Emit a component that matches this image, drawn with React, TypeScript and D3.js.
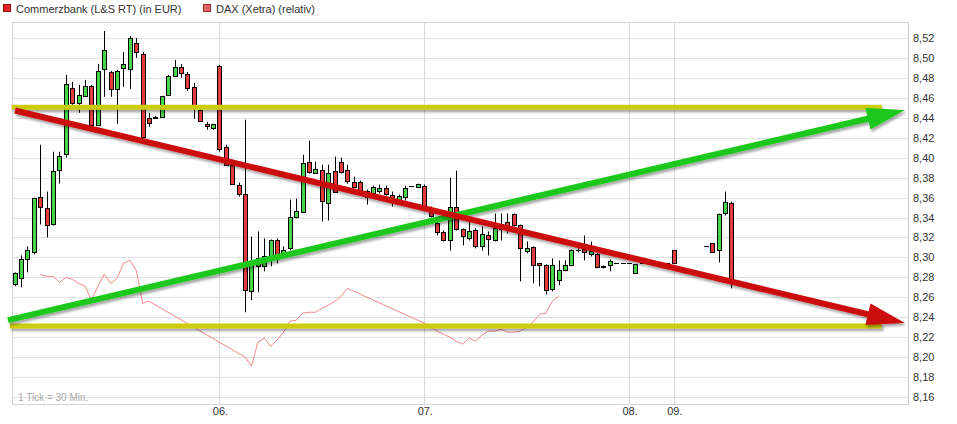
import React from "react";
import * as d3 from "d3";

const W = 957;
const H = 424;

// Commerzbank (L&S RT) 30-min candles, index 0 .. 112
const opens = [
  8.273, 8.279, 8.298, 8.305, 8.361, 8.350, 8.333, 8.388, 8.404, 8.470,
  8.455, 8.462, 8.472, 8.433, 8.489, 8.486, 8.469, 8.490, 8.489, 8.515,
  8.504, 8.440, 8.440, 8.441, 8.463, 8.482, 8.491, 8.484, 8.471, 8.448,
  8.434, 8.430, 8.492, 8.411, 8.393, 8.373, 8.364, 8.266, 8.291, 8.291,
  8.299, 8.317, 8.302, 8.309, 8.341, 8.346, 8.396, 8.385, 8.388, 8.355,
  8.387, 8.396, 8.388, 8.376, 8.376, 8.367, 8.365, 8.367, 8.370, 8.363,
  8.358, 8.361, 8.372, 8.371, 8.372, 8.349, 8.334, 8.325, 8.317, 8.351,
  8.328, 8.319, 8.327, 8.311, 8.322, 8.317, 8.328, 8.335, 8.344, 8.332,
  8.306, 8.310, 8.294, 8.292, 8.268, 8.277, 8.287, 8.292, 8.307, 8.308,
  8.303, 8.303, 8.291, 8.292, 8.294, 8.294, 8.294, 8.284, 8.294, 8.294,
  8.294, 8.294, 8.294, 8.307, 8.290, 8.287, 8.287, 8.285, 8.311, 8.314,
  8.307, 8.345, 8.355,
];
const highs = [
  8.285, 8.302, 8.311, 8.360, 8.413, 8.366, 8.406, 8.406, 8.483, 8.476,
  8.473, 8.478, 8.473, 8.494, 8.527, 8.487, 8.488, 8.506, 8.522, 8.520,
  8.506, 8.445, 8.442, 8.462, 8.483, 8.498, 8.494, 8.486, 8.475, 8.452,
  8.436, 8.434, 8.493, 8.413, 8.398, 8.375, 8.438, 8.321, 8.326, 8.319,
  8.318, 8.319, 8.311, 8.358, 8.359, 8.403, 8.417, 8.396, 8.393, 8.393,
  8.401, 8.400, 8.393, 8.381, 8.377, 8.368, 8.372, 8.373, 8.372, 8.366,
  8.363, 8.372, 8.372, 8.374, 8.373, 8.351, 8.337, 8.327, 8.380, 8.387,
  8.329, 8.341, 8.329, 8.331, 8.326, 8.344, 8.344, 8.344, 8.344, 8.333,
  8.316, 8.311, 8.294, 8.293, 8.299, 8.297, 8.297, 8.308, 8.309, 8.322,
  8.316, 8.304, 8.292, 8.298, 8.294, 8.294, 8.294, 8.293, 8.294, 8.294,
  8.294, 8.294, 8.294, 8.307, 8.290, 8.287, 8.287, 8.285, 8.311, 8.314,
  8.344, 8.366, 8.356,
];
const lows = [
  8.271, 8.270, 8.285, 8.303, 8.333, 8.320, 8.332, 8.374, 8.400, 8.453,
  8.445, 8.461, 8.432, 8.432, 8.461, 8.461, 8.434, 8.471, 8.469, 8.500,
  8.420, 8.431, 8.439, 8.440, 8.462, 8.482, 8.480, 8.467, 8.439, 8.436,
  8.428, 8.428, 8.406, 8.392, 8.373, 8.361, 8.245, 8.257, 8.265, 8.286,
  8.291, 8.294, 8.301, 8.307, 8.339, 8.345, 8.384, 8.384, 8.336, 8.337,
  8.365, 8.384, 8.374, 8.370, 8.367, 8.353, 8.364, 8.364, 8.362, 8.351,
  8.357, 8.357, 8.372, 8.371, 8.347, 8.340, 8.322, 8.316, 8.307, 8.327,
  8.312, 8.317, 8.309, 8.307, 8.302, 8.316, 8.317, 8.324, 8.331, 8.276,
  8.304, 8.274, 8.271, 8.263, 8.266, 8.272, 8.286, 8.291, 8.305, 8.297,
  8.301, 8.289, 8.289, 8.286, 8.294, 8.294, 8.294, 8.284, 8.294, 8.294,
  8.294, 8.294, 8.294, 8.294, 8.288, 8.287, 8.287, 8.283, 8.311, 8.305,
  8.295, 8.342, 8.269,
];
const closes = [
  8.284, 8.298, 8.307, 8.360, 8.351, 8.332, 8.387, 8.402, 8.474, 8.455,
  8.463, 8.472, 8.433, 8.487, 8.508, 8.469, 8.487, 8.494, 8.520, 8.506,
  8.421, 8.435, 8.441, 8.462, 8.482, 8.491, 8.485, 8.470, 8.453, 8.437,
  8.432, 8.434, 8.409, 8.393, 8.374, 8.364, 8.267, 8.294, 8.299, 8.301,
  8.317, 8.302, 8.307, 8.341, 8.347, 8.395, 8.386, 8.389, 8.357, 8.385,
  8.366, 8.386, 8.377, 8.371, 8.368, 8.361, 8.371, 8.370, 8.364, 8.359,
  8.362, 8.370, 8.372, 8.374, 8.349, 8.342, 8.325, 8.317, 8.351, 8.328,
  8.321, 8.326, 8.311, 8.323, 8.318, 8.329, 8.333, 8.329, 8.332, 8.309,
  8.309, 8.292, 8.292, 8.267, 8.292, 8.287, 8.292, 8.307, 8.307, 8.305,
  8.306, 8.290, 8.290, 8.296, 8.294, 8.294, 8.294, 8.293, 8.294, 8.294,
  8.294, 8.294, 8.294, 8.294, 8.288, 8.287, 8.287, 8.283, 8.311, 8.305,
  8.344, 8.356, 8.274,
];

// DAX (Xetra) relative line, only at DAX trading ticks
const daxIndex = [
  4, 5, 6, 7, 8, 9, 10, 11, 12, 13, 14, 15, 16, 17, 18, 19, 20, 21,
  36, 37, 38, 39, 40, 41, 42, 43, 44, 45, 46, 47, 48, 49, 50, 51, 52, 53,
  64, 65, 66, 67, 68, 69, 70, 71, 72, 73, 74, 75, 76, 77, 78, 79, 80, 81, 82, 83, 84, 85,
];
const daxValues = [
  8.283, 8.281, 8.281, 8.275, 8.280, 8.278, 8.274, 8.271, 8.257, 8.271, 8.283, 8.274, 8.279, 8.294, 8.297, 8.287, 8.254, 8.256,
  8.200, 8.191, 8.215, 8.219, 8.211, 8.217, 8.225, 8.236, 8.237, 8.244, 8.245, 8.245, 8.249, 8.252, 8.256, 8.261, 8.269, 8.266,
  8.234, 8.230, 8.226, 8.223, 8.220, 8.216, 8.213, 8.219, 8.216, 8.222, 8.226, 8.226, 8.228, 8.225, 8.225, 8.226, 8.230, 8.235, 8.243, 8.244, 8.256, 8.261,
];

const yTicks = [8.16, 8.18, 8.2, 8.22, 8.24, 8.26, 8.28, 8.3, 8.32, 8.34, 8.36, 8.38, 8.4, 8.42, 8.44, 8.46, 8.48, 8.5, 8.52];
const dayLabels = ["06.", "07.", "08.", "09."];
const dayStarts = [32, 64, 96, 103];

// drawn annotations (index, price)
const levelPrices = [8.4505, 8.2311];
const levelFrom = [-0.47, -0.73];
const levelTo = 135.5;
const redTrendIdx = [0.05, 139.1];
const redTrendPrice = [8.4473, 8.2341];
const greenTrendIdx = [-1.05, 139.1];
const greenTrendPrice = [8.2371, 8.4478];

const FONT = "'Liberation Sans', Arial, Helvetica, sans-serif";
const GREEN = "#48d448";
const RED = "#e23c3c";

function Arrow({ x1, y1, x2, y2, color, width, headLen, headHalf }: any) {
  const dx = x2 - x1;
  const dy = y2 - y1;
  const len = Math.sqrt(dx * dx + dy * dy);
  const ux = dx / len;
  const uy = dy / len;
  const nx = -uy;
  const ny = ux;
  const bx = x2 - ux * headLen;
  const by = y2 - uy * headLen;
  const pts = [
    [x2, y2],
    [bx + nx * headHalf, by + ny * headHalf],
    [bx - nx * headHalf, by - ny * headHalf],
  ];
  return (
    <g filter="url(#shadow)">
      <line x1={x1} y1={y1} x2={bx + ux * 2} y2={by + uy * 2} stroke={color} strokeWidth={width} />
      <polygon points={pts.map((p) => p.join(",")).join(" ")} fill={color} />
    </g>
  );
}

export default function App() {
  const left = 12.5;
  const right = 908.5;
  const top = 22.5;
  const bottom = 404.5;
  const x = d3.scaleLinear().domain([-0.34, 139.66]).range([12.5, 908.5]);
  const y = d3.scaleLinear().domain([8.16, 8.52]).range([397, 38]);
  const fmt = d3.format(".2f");

  const daxLine = d3
    .line<number>()
    .x((_, i) => x(daxIndex[i]))
    .y((d) => y(d));

  const candles = opens.map((o, i) => {
    const c = closes[i];
    const h = highs[i];
    const l = lows[i];
    const cx = Math.round(x(i)) + 0.5;
    const yt = Math.round(y(Math.max(o, c))) + 0.5;
    const yb = Math.round(y(Math.min(o, c))) + 0.5;
    const up = c >= o;
    return (
      <g key={i}>
        <line x1={cx} x2={cx} y1={y(h)} y2={y(l)} stroke="#000" strokeWidth={1} />
        {yb - yt >= 1 ? (
          <rect x={cx - 2} y={yt} width={4} height={yb - yt} fill={up ? GREEN : RED} stroke="#000" strokeWidth={1} />
        ) : (
          <line x1={cx - 2.5} x2={cx + 2.5} y1={yt} y2={yt} stroke="#000" strokeWidth={1} />
        )}
      </g>
    );
  });

  return (
    <svg
      width={W}
      height={H}
      style={{ position: "absolute", left: 0, top: 0, display: "block", background: "#fff" }}
      fontFamily={FONT}
    >
      <defs>
        <filter id="shadow" filterUnits="userSpaceOnUse" x={0} y={0} width={W} height={H}>
          <feDropShadow dx={1.5} dy={2.5} stdDeviation={1.3} floodColor="#000" floodOpacity={0.35} />
        </filter>
      </defs>
      <rect x={0} y={0} width={W} height={H} fill="#fff" />

      {/* legend */}
      <rect x={3.5} y={4.5} width={7} height={7} fill="#e02828" stroke="#9a1010" />
      <text x={16} y={12.5} fontSize={11} fill="#333">Commerzbank (L&amp;S RT) (in EUR)</text>
      <rect x={203.5} y={4.5} width={7} height={7} fill="#e06464" stroke="#a03030" />
      <text x={216} y={12.5} fontSize={11} fill="#333">DAX (Xetra) (relativ)</text>

      {/* grid */}
      {yTicks.map((t) => (
        <line key={t} x1={left} x2={right} y1={Math.round(y(t)) + 0.5} y2={Math.round(y(t)) + 0.5} stroke="#e2e2e2" />
      ))}
      {dayStarts.map((d) => (
        <line key={d} x1={Math.round(x(d)) + 0.5} x2={Math.round(x(d)) + 0.5} y1={top} y2={bottom} stroke="#dadada" />
      ))}
      <rect x={left} y={top} width={right - left} height={bottom - top} fill="none" stroke="#d4d4d4" />
      <line x1={right} x2={right} y1={top} y2={bottom} stroke="#c8c8c8" />

      {/* y labels */}
      {yTicks.map((t) => (
        <text key={t} x={913} y={y(t) + 4} fontSize={11} fill="#333">
          {fmt(t).replace(".", ",")}
        </text>
      ))}
      {/* x labels */}
      {dayStarts.map((d, i) => (
        <text key={d} x={x(d) + 1} y={415} fontSize={11} fill="#333" textAnchor="middle">
          {dayLabels[i]}
        </text>
      ))}
      <text x={18} y={401} fontSize={10} fill="#aaa">1 Tick = 30 Min.</text>

      {candles}

      <path d={daxLine(daxValues) || ""} fill="none" stroke="#f08888" strokeWidth={1} />

      {/* annotations */}
      <g filter="url(#shadow)">
        {levelPrices.map((p, i) => (
          <line
            key={p}
            x1={x(levelFrom[i])}
            x2={x(levelTo)}
            y1={y(p)}
            y2={y(p)}
            stroke="#cccc10"
            strokeWidth={5}
          />
        ))}
      </g>
      <Arrow
        x1={x(greenTrendIdx[0])}
        y1={y(greenTrendPrice[0])}
        x2={x(greenTrendIdx[1])}
        y2={y(greenTrendPrice[1])}
        color="#1ec81e"
        width={6}
        headLen={38}
        headHalf={11}
      />
      <Arrow
        x1={x(redTrendIdx[0])}
        y1={y(redTrendPrice[0])}
        x2={x(redTrendIdx[1])}
        y2={y(redTrendPrice[1])}
        color="#cc0a0a"
        width={6}
        headLen={38}
        headHalf={11}
      />
    </svg>
  );
}
